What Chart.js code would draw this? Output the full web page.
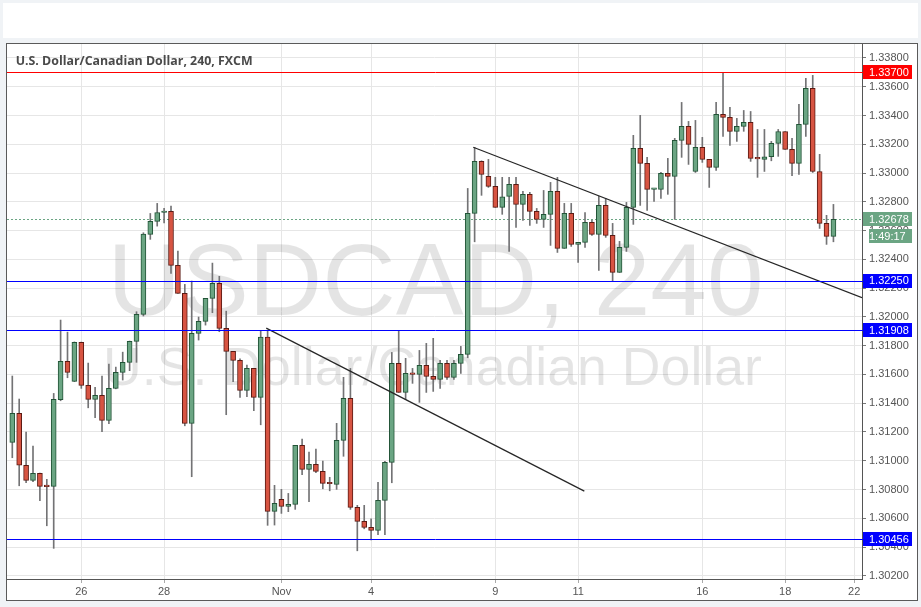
<!DOCTYPE html>
<html><head><meta charset="utf-8">
<script src="https://cdn.jsdelivr.net/npm/chart.js@4.4.1/dist/chart.umd.min.js"></script>
<style>
html,body{margin:0;padding:0;background:#f0f3f6;width:921px;height:607px;overflow:hidden;}
#banner{position:absolute;left:3px;top:3px;width:915px;height:35px;background:#fff;}
#frame{position:absolute;left:6px;top:43px;width:912px;height:558px;box-sizing:border-box;border:1px solid #5a5a5a;background:#fff;}
#frame canvas{display:block;}
</style></head><body>
<div id="banner"></div>
<div id="frame"><canvas id="c" width="910" height="556"></canvas></div>
<script>
// ---- data (4h candles, USD/CAD) ----
const open  = [1.31128,1.31329,1.30968,1.30864,1.30912,1.30822,1.30822,1.31424,1.31691,1.31552,
1.31823,1.31524,1.31427,1.31455,1.31281,1.31503,1.31614,1.31684,1.31830,1.32018,
1.32574,1.32664,1.32726,1.32733,1.32358,1.32163,1.31260,1.31885,1.31969,1.32129,
1.32233,1.31920,1.31760,1.31698,1.31489,1.31642,1.31441,1.31860,1.30648,1.30732,
1.30683,1.30697,1.31107,1.30940,1.30975,1.30926,1.30843,1.30836,1.31142,1.31434,
1.30676,1.30579,1.30537,1.30516,1.30725,1.30989,1.31677,1.31475,1.31607,1.31600,
1.31663,1.31587,1.31566,1.31677,1.31580,1.31677,1.31740,1.32720,1.33081,1.32977,
1.32907,1.32761,1.32838,1.32921,1.32782,1.32852,1.32733,1.32678,1.32713,1.32872,
1.32476,1.32720,1.32504,1.32518,1.32657,1.32574,1.32775,1.32567,1.32309,1.32483,
1.32761,1.33171,1.33067,1.32886,1.32886,1.32998,1.32977,1.33227,1.33324,1.33011,
1.33178,1.33095,1.33039,1.33408,1.33387,1.33290,1.33324,1.33352,1.33102,1.33095,
1.33113,1.33206,1.33289,1.33164,1.33067,1.33338,1.33588,1.33011,1.32650,1.32560];
const high  = [1.31589,1.31429,1.31199,1.31102,1.30915,1.30871,1.31468,1.31978,1.31894,1.31826,
1.31825,1.31679,1.31510,1.31589,1.31672,1.31651,1.31755,1.31832,1.32036,1.32585,
1.32719,1.32789,1.32754,1.32770,1.32457,1.32226,1.32249,1.31999,1.32129,1.32374,
1.32282,1.32040,1.31760,1.31709,1.31665,1.31642,1.31906,1.31906,1.30829,1.30801,
1.30773,1.31107,1.31151,1.31060,1.31081,1.30998,1.30885,1.31260,1.31580,1.31642,
1.30690,1.30690,1.30597,1.30850,1.30996,1.31753,1.31906,1.31712,1.31642,1.31767,
1.31816,1.31851,1.31698,1.31698,1.31698,1.31795,1.32893,1.33178,1.33085,1.33095,
1.32970,1.32970,1.32970,1.32970,1.32872,1.32866,1.32754,1.32879,1.32935,1.32970,
1.32789,1.32789,1.32518,1.32726,1.32671,1.32838,1.32824,1.32650,1.32525,1.32796,
1.33262,1.33401,1.33109,1.32893,1.33005,1.33102,1.33241,1.33491,1.33359,1.33366,
1.33248,1.33095,1.33491,1.33695,1.33456,1.33380,1.33435,1.33428,1.33303,1.33303,
1.33220,1.33303,1.33289,1.33241,1.33477,1.33658,1.33679,1.33130,1.32706,1.32782];
const low   = [1.31021,1.30826,1.30847,1.30854,1.30722,1.30548,1.30391,1.31417,1.31577,1.31550,
1.31503,1.31368,1.31299,1.31202,1.31257,1.31500,1.31561,1.31626,1.31684,1.32006,
1.32539,1.32631,1.32654,1.32302,1.32163,1.31243,1.30889,1.31839,1.31943,1.32029,
1.31897,1.31320,1.31549,1.31441,1.31445,1.31348,1.31250,1.30551,1.30553,1.30634,
1.30646,1.30662,1.30903,1.30715,1.30917,1.30805,1.30791,1.30801,1.31031,1.30662,
1.30374,1.30527,1.30449,1.30486,1.30486,1.30847,1.31475,1.31427,1.31538,1.31406,
1.31475,1.31482,1.31503,1.31566,1.31566,1.31607,1.31716,1.32522,1.32845,1.32900,
1.32761,1.32713,1.32455,1.32622,1.32671,1.32636,1.32650,1.32622,1.32497,1.32448,
1.32476,1.32490,1.32379,1.32483,1.32567,1.32323,1.32553,1.32247,1.32309,1.32455,
1.32643,1.32775,1.32740,1.32803,1.32824,1.32852,1.32678,1.33109,1.33060,1.33004,
1.33074,1.32900,1.33018,1.33255,1.33192,1.33220,1.33290,1.33081,1.32970,1.33011,
1.33085,1.33116,1.33164,1.32981,1.32991,1.33255,1.33004,1.32615,1.32504,1.32522];
const close = [1.31329,1.30970,1.30864,1.30912,1.30822,1.30820,1.31427,1.31691,1.31614,1.31823,
1.31524,1.31427,1.31455,1.31281,1.31503,1.31614,1.31684,1.31830,1.32018,1.32576,
1.32664,1.32726,1.32733,1.32358,1.32163,1.31260,1.31885,1.31969,1.32129,1.32233,
1.31920,1.31760,1.31698,1.31489,1.31642,1.31441,1.31860,1.30648,1.30704,1.30683,
1.30697,1.31107,1.30940,1.30975,1.30926,1.30843,1.30840,1.31142,1.31434,1.30676,
1.30579,1.30537,1.30516,1.30725,1.30989,1.31677,1.31475,1.31607,1.31600,1.31663,
1.31587,1.31566,1.31677,1.31580,1.31677,1.31740,1.32720,1.33081,1.32991,1.32907,
1.32761,1.32835,1.32921,1.32782,1.32852,1.32733,1.32678,1.32713,1.32872,1.32476,
1.32720,1.32504,1.32518,1.32657,1.32574,1.32775,1.32567,1.32309,1.32483,1.32761,
1.33171,1.33067,1.32886,1.32888,1.32998,1.32977,1.33227,1.33324,1.33199,1.33178,
1.33095,1.33039,1.33408,1.33387,1.33290,1.33324,1.33352,1.33102,1.33099,1.33113,
1.33206,1.33289,1.33164,1.33067,1.33338,1.33588,1.33011,1.32650,1.32560,1.32678];

const xTickIdx    = [10, 22, 39, 52, 70, 82, 100, 112, 122];
const xTickLabels = ["26", "28", "Nov", "4", "9", "11", "16", "18", "22"];
const yTicks = [1.302,1.304,1.306,1.308,1.310,1.312,1.314,1.316,1.318,1.320,1.322,1.324,1.326,1.328,1.330,1.332,1.334,1.336,1.338];

const levelPrices = [1.33700, 1.32250, 1.31908, 1.30456];
const levelLabels = ["1.33700", "1.32250", "1.31908", "1.30456"];
const lastPrice = 1.32678;
const lastPriceLabel = "1.32678";
const countdownLabel = "1:49:17";

const trend1X = [36.8, 82.9];   const trend1Y = [1.31922, 1.30789];
const trend2X = [66.8, 123.14]; const trend2Y = [1.33179, 1.32133];

const titleText = "U.S. Dollar/Canadian Dollar, 240, FXCM";
const wmMain = "USDCAD, 240";
const wmSub = "U.S. Dollar/Canadian Dollar";

// ---- styles ----
const X_MIN = -0.768, X_MAX = 123.14, Y_MIN = 1.30178, Y_MAX = 1.33897;
const UP = '#6ba583', UP_B = '#225437', DN = '#d75442', DN_B = '#5b1a13', WICK = '#737375';
const levelColors = ['#ff0000', '#0000ff', '#0000ff', '#0000ff'];
const FONT = '"Liberation Sans", Arial, sans-serif';

const isUp = close.map((c, i) => c >= open[i]);

function fitFont(ctx, text, target, weight, family) {
  ctx.font = `${weight} 20px ${family}`;
  const w = ctx.measureText(text).width;
  const s = 20 * target / w;
  ctx.font = `${weight} ${s.toFixed(2)}px ${family}`;
  return s;
}

const deco = {
  id: 'deco',
  beforeDatasetsDraw(chart) {
    const {ctx, chartArea: a, scales: {y}} = chart;
    ctx.save();
    ctx.beginPath(); ctx.rect(a.left, a.top, a.right - a.left, a.bottom - a.top); ctx.clip();
    ctx.fillStyle = 'rgba(0,0,0,0.105)';
    ctx.textAlign = 'center'; ctx.textBaseline = 'alphabetic';
    const cx = (a.left + a.right) / 2;
    fitFont(ctx, wmMain, 656, 'normal', FONT);
    ctx.fillText(wmMain, cx + 1, a.top + 271);
    fitFont(ctx, wmSub, 659, 'normal', FONT);
    ctx.fillText(wmSub, cx - 2, a.top + 341);
    ctx.restore();
    // dotted last price line
    ctx.save();
    const py = Math.round(y.getPixelForValue(lastPrice)) + 0.5;
    ctx.strokeStyle = UP; ctx.lineWidth = 1; ctx.setLineDash([2, 2]);
    ctx.beginPath(); ctx.moveTo(a.left, py); ctx.lineTo(a.right, py); ctx.stroke();
    ctx.restore();
  },
  afterDatasetsDraw(chart) {
    const {ctx, chartArea: a, scales: {y}} = chart;
    ctx.save();
    levelPrices.forEach((p, i) => {
      const py = Math.round(y.getPixelForValue(p)) + 0.5;
      ctx.strokeStyle = levelColors[i]; ctx.lineWidth = 1;
      ctx.beginPath(); ctx.moveTo(a.left, py); ctx.lineTo(a.right + 2, py); ctx.stroke();
    });
    ctx.restore();
  },
  afterDraw(chart) {
    const {ctx, chartArea: a, scales: {y}} = chart;
    ctx.save();
    ctx.font = `11px ${FONT}`;
    ctx.textBaseline = 'middle'; ctx.textAlign = 'left';
    const box = (py, color, text, x0) => {
      ctx.fillStyle = color;
      ctx.fillRect(x0, Math.round(py - 7), a.right + 50 - x0, 14);
      ctx.fillStyle = '#ffffff';
      ctx.fillText(text, a.right + 7, py + 0.5);
    };
    levelPrices.forEach((p, i) => box(y.getPixelForValue(p), levelColors[i], levelLabels[i], a.right + 1));
    const lp = y.getPixelForValue(lastPrice);
    box(lp, UP, lastPriceLabel, a.right + 1);
    box(lp + 17, UP, countdownLabel, a.right + 7);
    // title
    ctx.fillStyle = '#4a4a4a';
    ctx.textBaseline = 'alphabetic';
    fitFont(ctx, titleText, 237, 'bold', '"Open Sans", "Liberation Sans", sans-serif');
    ctx.fillText(titleText, a.left + 8.7, a.top + 21);
    ctx.restore();
  }
};

new Chart(document.getElementById('c'), {
  type: 'bar',
  data: {
    datasets: [
      {
        type: 'bar', order: 1, grouped: false,
        data: open.map((o, i) => ({x: i, y: [o, close[i]]})),
        backgroundColor: isUp.map(u => u ? UP : DN),
        borderColor: isUp.map(u => u ? UP_B : DN_B),
        borderWidth: 1, borderSkipped: false, barThickness: 5, minBarLength: 1.5
      },
      {
        type: 'bar', order: 2, grouped: false,
        data: high.map((h, i) => ({x: i, y: [low[i], h]})),
        backgroundColor: WICK, borderWidth: 0, barThickness: 1
      },
      {
        type: 'line', order: 0,
        data: trend1X.map((x, i) => ({x, y: trend1Y[i]})),
        borderColor: '#262626', borderWidth: 1.2, pointRadius: 0, fill: false
      },
      {
        type: 'line', order: 0,
        data: trend2X.map((x, i) => ({x, y: trend2Y[i]})),
        borderColor: '#262626', borderWidth: 1.2, pointRadius: 0, fill: false
      }
    ]
  },
  options: {
    responsive: false, animation: false, devicePixelRatio: 1,
    layout: {padding: 0},
    plugins: {legend: {display: false}, tooltip: {enabled: false}},
    scales: {
      x: {
        type: 'linear', min: X_MIN, max: X_MAX, offset: false,
        afterBuildTicks: s => { s.ticks = xTickIdx.map(v => ({value: v})); },
        afterFit: s => { s.height = 21; s.paddingLeft = 0; s.paddingRight = 0; },
        ticks: {
          autoSkip: false, maxRotation: 0, padding: 2, color: '#555',
          font: {size: 11, family: FONT},
          callback: v => { const k = xTickIdx.indexOf(v); return k >= 0 ? xTickLabels[k] : ''; }
        },
        grid: {color: '#e6e6e6', tickColor: '#aaa', tickLength: 4, offset: false},
        border: {color: '#555'}
      },
      y: {
        position: 'right', min: Y_MIN, max: Y_MAX,
        afterBuildTicks: s => { s.ticks = yTicks.map(v => ({value: v})); },
        afterFit: s => { s.width = 55; s.paddingTop = 0; s.paddingBottom = 0; },
        ticks: {
          autoSkip: false, padding: 3, color: '#555',
          font: {size: 11, family: FONT},
          callback: v => Number(v).toFixed(5)
        },
        grid: {color: '#e6e6e6', tickColor: '#777', tickLength: 4},
        border: {color: '#555'}
      }
    }
  },
  plugins: [deco]
});
</script>
</body></html>
